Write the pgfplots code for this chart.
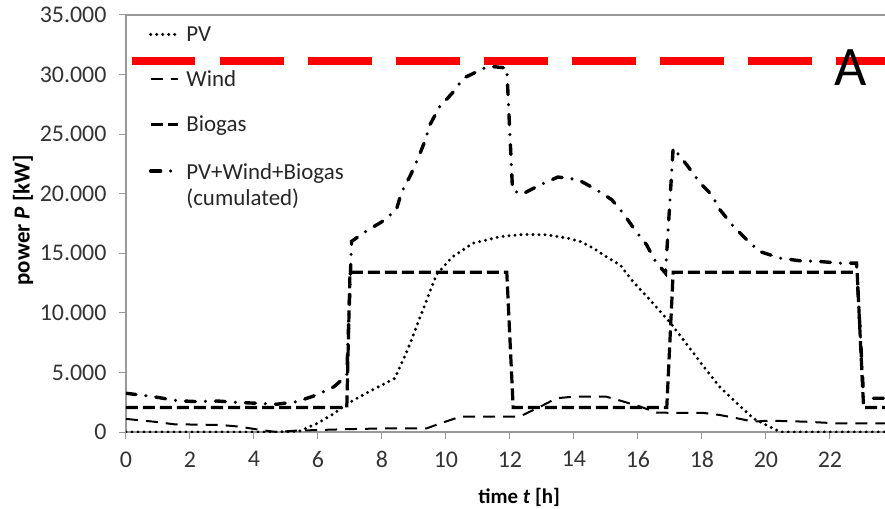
\documentclass[border=0pt]{standalone}
\usepackage{pgfplots}
\pgfplotsset{compat=1.18}
\usepackage{fontspec}
\setmainfont{Carlito}
\begin{document}
\begin{tikzpicture}
\begin{axis}[
  name=ax,
  scale only axis, width=759bp, height=417bp,
  xmin=0, xmax=23.72, ymin=0, ymax=35000,
  axis x line*=box, axis y line*=left,
  axis line style={draw=black!40, line width=1.3bp},
  xtick={0,2,...,22}, ytick={0,5000,...,35000},
  xtick pos=bottom, ytick pos=left,
  tick align=outside, major tick length=7bp,
  tick style={black!40, line width=1bp},
  scaled y ticks=false,
  /pgf/number format/.cd, fixed, 1000 sep={.}, assume math mode=true, /pgfplots/.cd,
  ticklabel style={font=\fontsize{24}{28}\selectfont, text=black!80},
  xticklabel style={yshift=-9bp},
  yticklabel style={xshift=-9bp},
  xlabel={\textbf{time \textit{t} [h]}},
  ylabel={\textbf{power \textit{P} [kW]}},
  xlabel style={font=\fontsize{21}{25}\selectfont, at={(axis description cs:0.518,0)}, anchor=base, yshift=-71bp},
  ylabel style={font=\fontsize{23}{27}\selectfont, at={(axis description cs:-0.1357,0.508)}, anchor=center},
  legend style={at={(0.03,0.978)}, anchor=north west, draw=none, fill=none,
    font=\fontsize{23}{26}\selectfont, text=black!85, row sep=24bp, inner sep=0pt,
    /tikz/every odd column/.append style={column sep=5bp}},
  legend cell align=left,
  legend image code/.code={\draw[#1] (0bp,0bp) -- (27bp,0bp);},
]
\addplot[red, line width=8bp, dash pattern=on 63.5bp off 24.5bp, forget plot] coordinates {(0.1875,31150) (23.72,31150)};
\addplot[black, line width=3.3bp, line cap=round, dash pattern=on 0bp off 6bp] coordinates {
(0,0) (1,0) (2,0) (3,0) (4,0) (4.7,0) (5.4,50) (6.0,750) (6.5,1550) (6.9,2350) (7.5,3250) (8.4,4500) (8.8,6900) (9.2,9700) (9.7,13200) (10.2,14700) (10.85,15850) (11.7,16400) (12.4,16580) (13.15,16550) (13.8,16270) (14.2,15990) (14.6,15440) (15.0,14730) (15.45,14000) (15.85,12600) (16.27,11400) (16.6,10400) (17.0,9200) (17.5,7450) (18.05,5500) (18.55,3800) (19.1,2400) (19.6,1150) (20.0,600) (20.45,0) (23.72,0)};
\addlegendentry{PV}
\addplot[black, line width=2bp, dash pattern=on 12bp off 8bp] coordinates {
(0,1100) (0.85,870) (1.5,650) (2.95,590) (3.55,450) (4.2,170) (4.7,0) (5.3,110) (6.05,170) (7.1,250) (8.35,310) (9.4,310) (9.8,700) (10.45,1290) (12.3,1290) (12.95,2130) (13.45,2830) (14.0,2970) (15.0,2970) (15.45,2630) (16.05,2150) (16.6,1620) (18.05,1600) (18.55,1430) (19.1,1150) (19.6,870) (20.1,950) (21.2,870) (22.2,730) (23.72,730)};
\addlegendentry{Wind}
\addplot[black, line width=3.2bp, dash pattern=on 12bp off 5bp] coordinates {
(0,2050) (6.9,2050) (7.0,13400) (11.9,13400) (12.1,2050) (16.9,2050) (17.1,13400) (22.85,13400) (23.05,2050) (23.72,2050)};
\addlegendentry{Biogas}
\addplot[black, line width=3.4bp, line cap=round, dash pattern=on 10bp off 10bp on 0bp off 10bp] coordinates {
(0,3250) (0.85,2970) (1.6,2630) (2.2,2550) (2.85,2600) (3.45,2490) (4.1,2410) (4.7,2330) (5.35,2550) (5.95,3100) (6.5,3800) (6.9,4750) (7.05,16000) (7.5,16850) (8.0,17650) (8.45,18650) (8.6,20050) (8.9,21600) (9.15,23100) (9.35,24500) (9.5,25800) (9.8,27300) (10.2,28450) (10.55,29700) (11.2,30550) (11.35,30700) (11.9,30550) (12.08,20300) (12.37,19950) (12.95,20750) (13.5,21400) (14.13,21180) (14.66,20400) (15.18,19500) (15.54,18350) (15.9,16970) (16.27,15710) (16.55,14300) (16.86,13330) (17.1,23850) (17.52,22440) (17.94,20900) (18.3,19920) (18.56,18660) (18.98,17260) (19.4,16130) (19.8,15150) (20.44,14600) (21.06,14370) (21.69,14310) (22.31,14170) (22.83,14170) (23.05,2950) (23.25,2830) (23.72,2830)};
\addlegendentry{\begin{tabular}[t]{@{}l@{}}PV+Wind+Biogas\\(cumulated)\end{tabular}}
\node[font=\fontsize{56}{60}\selectfont] at (axis cs:22.66,30550) {A};
\end{axis}
\pgfresetboundingbox
\useasboundingbox ([xshift=-126bp,yshift=-77bp]ax.south west) rectangle ([yshift=15bp]ax.north east);
\end{tikzpicture}
\end{document}
